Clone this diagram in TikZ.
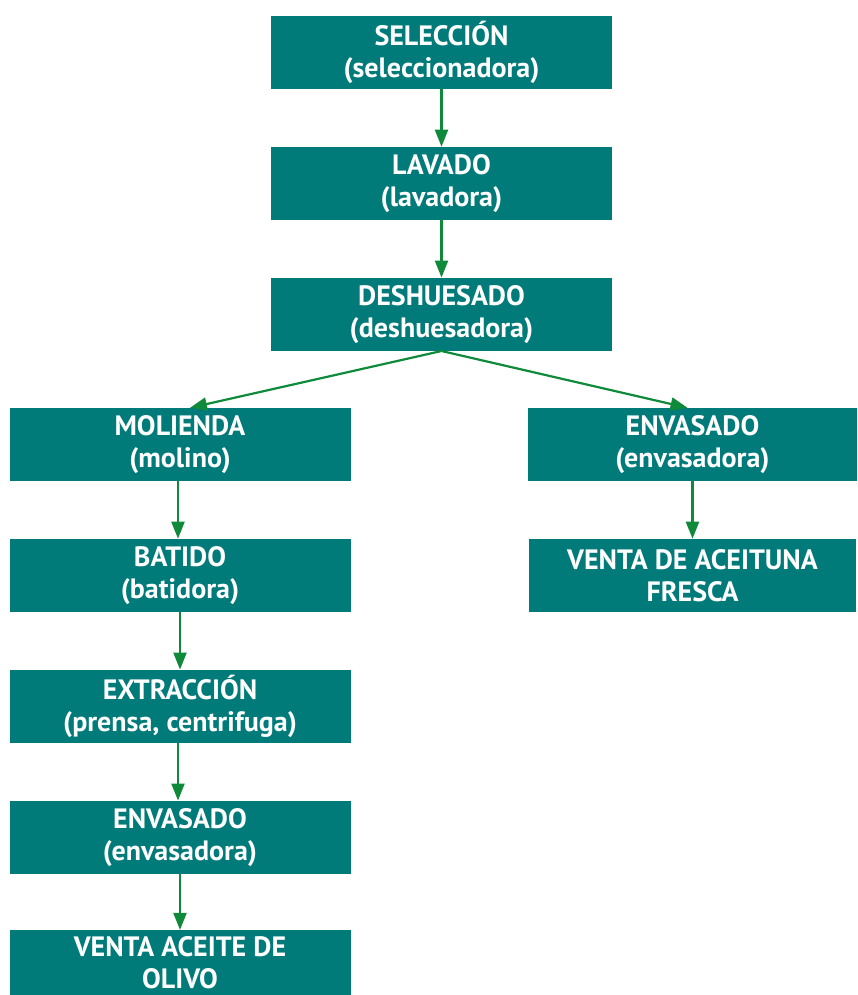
\documentclass[tikz,border=0pt]{standalone}
\usepackage{fontspec}
\setmainfont{PT Sans}
\usetikzlibrary{positioning,arrows.meta}
\definecolor{boxteal}{RGB}{0,123,122}
\definecolor{arrowgreen}{RGB}{14,138,58}
\tikzset{
    block/.style={
        fill=boxteal,
        text=white,
        font=\bfseries\fontsize{28}{32}\selectfont,
        align=center,
        rectangle,
        minimum height=73pt,
        minimum width=341pt,
        inner sep=0pt
    },
    flow/.style={
        draw=arrowgreen,
        line width=2.2pt,
        -{Triangle[width=13pt,length=17pt]}
    },
}

\begin{document}
\begin{tikzpicture}[x=1pt, y=-1pt, node distance = 57.5pt and 0pt]
    \useasboundingbox (0,0) rectangle (857,995);
    \clip (0,0) rectangle (857,995);
    % blocks
    \node[block] (seleccion) at (441.5,52.5) {SELECCIÓN\\(seleccionadora)};
    \node[block, below= of seleccion] (lavado) {LAVADO\\(lavadora)};
    \node[block, below= of lavado] (deshuesado) {DESHUESADO\\(deshuesadora)};
    \node[block] (molienda) at (180,444.5) {MOLIENDA\\(molino)};
    \node[block, minimum width=329pt] (envasadoA) at (692.5,444.5) {ENVASADO\\(envasadora)};
    \node[block, below= of molienda] (batido) {BATIDO\\(batidora)};
    \node[block, below= of batido] (extraccion) {EXTRACCIÓN\\(prensa, centrifuga)};
    \node[block, below= of extraccion] (envasadoB) {ENVASADO\\(envasadora)};
    \node[block, below= 56pt of envasadoB, text depth=9pt] (venta) {VENTA ACEITE DE\\OLIVO};
    \node[block, minimum width=327pt, below= of envasadoA] (fresca) {VENTA DE ACEITUNA\\FRESCA};

    % lines
    \draw[flow] (seleccion) -- (lavado);
    \draw[flow] (lavado) -- (deshuesado);
    \draw[flow] (deshuesado.south) -- ([xshift=10pt]molienda.north);
    \draw[flow] (deshuesado.south) -- ([xshift=-5pt]envasadoA.north);
    \draw[flow] ([xshift=-2pt]molienda.south) -- ([xshift=-2pt]batido.north);
    \draw[flow] (batido) -- (extraccion);
    \draw[flow] ([xshift=-2pt]extraccion.south) -- ([xshift=-2pt]envasadoB.north);
    \draw[flow] (envasadoB) -- (venta);
    \draw[flow] (envasadoA) -- (fresca);
\end{tikzpicture}
\end{document}
